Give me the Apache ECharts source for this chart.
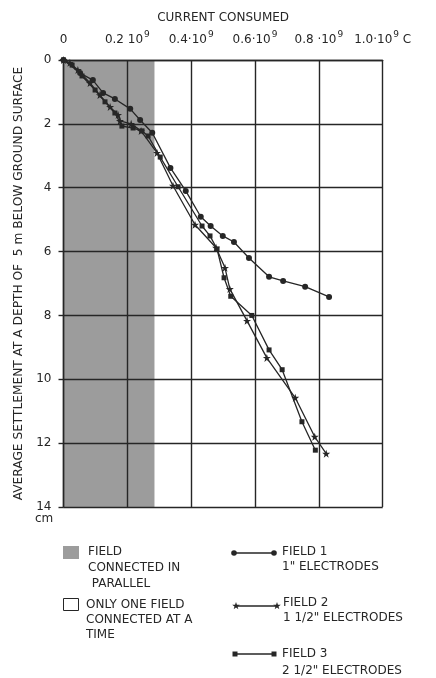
<!DOCTYPE html>
<html>
<head>
<meta charset="utf-8">
<script src="https://cdn.jsdelivr.net/npm/echarts@6/dist/echarts.min.js"></script>
<style>
html,body{margin:0;padding:0;background:#fff;}
#chart{width:436px;height:678px;}
</style>
</head>
<body>
<div id="chart"></div>
<script>
// Current consumed (units of 10^9 C) vs average settlement (cm)
var field1X = [0, 0.052, 0.092, 0.124, 0.161, 0.209, 0.240, 0.278, 0.335, 0.383, 0.430, 0.461, 0.499, 0.534, 0.581, 0.644, 0.688, 0.757, 0.832];
var field1Y = [0, 0.41, 0.63, 1.03, 1.22, 1.53, 1.88, 2.28, 3.38, 4.10, 4.91, 5.20, 5.51, 5.70, 6.20, 6.79, 6.92, 7.10, 7.42];

var field2X = [0, 0.020, 0.045, 0.083, 0.114, 0.146, 0.171, 0.177, 0.212, 0.243, 0.293, 0.343, 0.412, 0.478, 0.506, 0.521, 0.575, 0.637, 0.726, 0.787, 0.823];
var field2Y = [0, 0.09, 0.31, 0.72, 1.10, 1.47, 1.72, 1.91, 2.00, 2.22, 2.91, 3.94, 5.16, 5.88, 6.51, 7.17, 8.17, 9.33, 10.58, 11.80, 12.33];

var field3X = [0, 0.027, 0.058, 0.099, 0.130, 0.161, 0.183, 0.218, 0.246, 0.265, 0.303, 0.359, 0.434, 0.459, 0.481, 0.503, 0.524, 0.590, 0.644, 0.685, 0.747, 0.789];
var field3Y = [0, 0.16, 0.50, 0.94, 1.31, 1.66, 2.07, 2.13, 2.22, 2.38, 3.04, 3.97, 5.20, 5.51, 5.92, 6.82, 7.40, 8.00, 9.08, 9.70, 11.33, 12.22];

var parallelRange = [0, 0.285]; // shaded: fields connected in parallel

var xTickValues = [0, 0.2, 0.4, 0.6, 0.8, 1.0];
var xTickLabels = ['{s|  }0{s|  }', '0.2 10{s|9}', '0.4\u00b710{s|9}', '0.6\u00b710{s|9}', '0.8 \u00b710{s|9}', '1.0\u00b710{s|9} C'];
var yTickLabels = ['0', '2', '4', '6', '8', '10', '12', '14'];

var xTitle = 'CURRENT CONSUMED';
var yTitle = 'AVERAGE SETTLEMENT AT A DEPTH OF  5 m BELOW GROUND SURFACE';

function pairs(xs, ys) { return xs.map(function (x, i) { return [x, ys[i]]; }); }

var FONT = 'DejaVu Sans';
var INK = '#262626';
var STAR = 'path://M0,-10L2.4,-3.1L9.5,-3.1L3.8,1.2L5.9,8.1L0,4L-5.9,8.1L-3.8,1.2L-9.5,-3.1L-2.4,-3.1Z';

function starPoints(cx, cy, r) {
  var pts = [];
  for (var i = 0; i < 10; i++) {
    var a = -Math.PI / 2 + i * Math.PI / 5;
    var rr = i % 2 === 0 ? r : r * 0.4;
    pts.push([cx + rr * Math.cos(a), cy + rr * Math.sin(a)]);
  }
  return pts;
}

var chart = echarts.init(document.getElementById('chart'), null, {renderer: 'canvas'});

var lineStyle = {color: INK, width: 1.3};
var FL = '12px "' + FONT + '"';

var option = {
  backgroundColor: '#fff',
  animation: false,
  textStyle: {fontFamily: FONT, color: INK},
  grid: {left: 63.5, top: 60, right: 53.3, bottom: 171},
  xAxis: {
    type: 'value', position: 'top', min: 0, max: 1.0, interval: 0.2, z: 3,
    name: xTitle, nameLocation: 'middle', nameGap: 36,
    nameTextStyle: {fontFamily: FONT, fontSize: 12, color: INK},
    axisLine: {show: true, lineStyle: {color: INK, width: 1.4}},
    axisTick: {show: false},
    splitLine: {show: true, lineStyle: {color: INK, width: 1.4}},
    axisLabel: {
      margin: 11, fontFamily: FONT, fontSize: 12, color: INK,
      formatter: function (v) {
        var i = xTickValues.findIndex(function (t) { return Math.abs(t - v) < 1e-6; });
        return i >= 0 ? xTickLabels[i] : '';
      },
      rich: {s: {fontSize: 9, verticalAlign: 'top', padding: [0, 0, 10, 1], fontFamily: FONT, color: INK}}
    }
  },
  yAxis: {
    type: 'value', inverse: true, min: 0, max: 14, interval: 2, z: 3,
    name: yTitle, nameLocation: 'middle', nameGap: 37, nameRotate: 90,
    nameTextStyle: {fontFamily: FONT, fontSize: 12.2, color: INK},
    axisLine: {show: true, lineStyle: {color: INK, width: 1.4}},
    axisTick: {show: true, length: 5, lineStyle: {color: INK, width: 1.4}},
    splitLine: {show: true, lineStyle: {color: INK, width: 1.4}},
    axisLabel: {
      margin: 12, fontFamily: FONT, fontSize: 12, color: INK,
      formatter: function (v) { return yTickLabels[Math.round(v / 2)] || ''; }
    }
  },
  series: [
    {
      name: 'parallel', type: 'line', data: [], z: -1, silent: true,
      markArea: {
        silent: true,
        itemStyle: {color: '#9c9c9c'},
        data: [[{xAxis: parallelRange[0], yAxis: 0}, {xAxis: parallelRange[1], yAxis: 14}]]
      }
    },
    {
      name: 'FIELD 1', type: 'line', data: pairs(field1X, field1Y), z: 5,
      symbol: 'circle', symbolSize: 6, lineStyle: lineStyle, itemStyle: {color: INK}
    },
    {
      name: 'FIELD 2', type: 'line', data: pairs(field2X, field2Y), z: 5,
      symbol: STAR, symbolSize: 8, lineStyle: lineStyle, itemStyle: {color: INK}
    },
    {
      name: 'FIELD 3', type: 'line', data: pairs(field3X, field3Y), z: 5,
      symbol: 'rect', symbolSize: 5, lineStyle: lineStyle, itemStyle: {color: INK}
    }
  ],
  graphic: [
    {type: 'text', x: 35, y: 513, style: {text: 'cm', font: FL, fill: INK}},
    // legend left column
    {type: 'rect', shape: {x: 63, y: 546, width: 16, height: 13}, style: {fill: '#9c9c9c'}},
    {type: 'text', x: 88, y: 543.5, style: {text: 'FIELD\nCONNECTED IN\n PARALLEL', font: FL, fill: INK, lineHeight: 16}},
    {type: 'rect', shape: {x: 63.5, y: 598.5, width: 15, height: 12}, style: {fill: '#fff', stroke: INK, lineWidth: 1}},
    {type: 'text', x: 86, y: 597.5, style: {text: 'ONLY ONE FIELD\nCONNECTED AT A\nTIME', font: FL, fill: INK, lineHeight: 15}},
    // legend right column
    {type: 'line', shape: {x1: 234, y1: 553, x2: 274, y2: 553}, style: {stroke: INK, lineWidth: 1.3}},
    {type: 'circle', shape: {cx: 234, cy: 553, r: 2.8}, style: {fill: INK}},
    {type: 'circle', shape: {cx: 274, cy: 553, r: 2.8}, style: {fill: INK}},
    {type: 'text', x: 282, y: 544, style: {text: 'FIELD 1\n1" ELECTRODES', font: FL, fill: INK, lineHeight: 15.5}},
    {type: 'line', shape: {x1: 236, y1: 606, x2: 277, y2: 606}, style: {stroke: INK, lineWidth: 1.3}},
    {type: 'polygon', shape: {points: starPoints(236, 606, 4)}, style: {fill: INK}},
    {type: 'polygon', shape: {points: starPoints(277, 606, 4)}, style: {fill: INK}},
    {type: 'text', x: 283, y: 595, style: {text: 'FIELD 2\n1 1/2" ELECTRODES', font: FL, fill: INK, lineHeight: 15.5}},
    {type: 'line', shape: {x1: 235, y1: 654, x2: 274, y2: 654}, style: {stroke: INK, lineWidth: 1.3}},
    {type: 'rect', shape: {x: 232.5, y: 651.5, width: 5, height: 5}, style: {fill: INK}},
    {type: 'rect', shape: {x: 271.5, y: 651.5, width: 5, height: 5}, style: {fill: INK}},
    {type: 'text', x: 282, y: 646, style: {text: 'FIELD 3\n2 1/2" ELECTRODES', font: FL, fill: INK, lineHeight: 16.5}}
  ]
};
chart.setOption(option);
</script>
</body>
</html>
